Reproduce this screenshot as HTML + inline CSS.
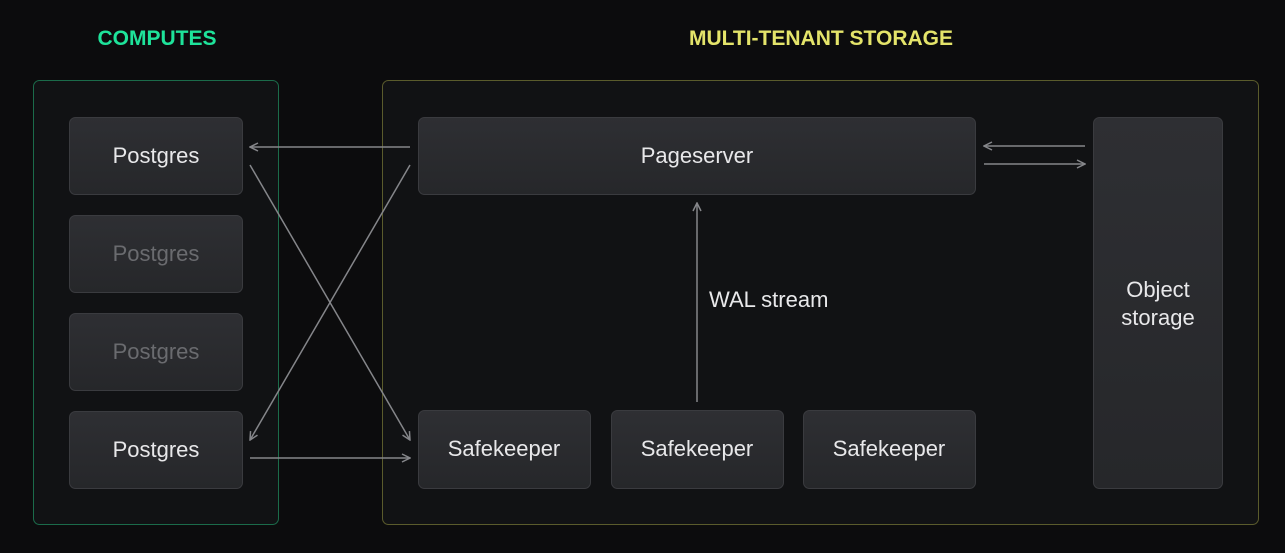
<!DOCTYPE html>
<html><head><meta charset="utf-8"><style>
html,body{margin:0;padding:0;background:#0c0c0d;}
svg{display:block;}
text{font-family:"Liberation Sans",sans-serif;}
</style></head><body>
<svg width="1285" height="553" viewBox="0 0 1285 553" xmlns="http://www.w3.org/2000/svg">
<defs>
<linearGradient id="g" x1="0" y1="0" x2="0" y2="1">
<stop offset="0" stop-color="#2e2f33"/><stop offset="1" stop-color="#26272a"/>
</linearGradient>
<marker id="a" viewBox="0 0 10 10" refX="9" refY="5" markerWidth="10" markerHeight="10" markerUnits="userSpaceOnUse" orient="auto">
<path d="M1 1 L9 5 L1 9" fill="none" stroke="#85868a" stroke-width="1.5"/>
</marker>
</defs>
<rect width="1285" height="553" fill="#0c0c0d"/>
<text x="157" y="45" text-anchor="middle" font-size="21" fill="#1ee39a" font-weight="600">COMPUTES</text>
<text x="821" y="45" text-anchor="middle" font-size="21" fill="#e4e46a" font-weight="600">MULTI-TENANT STORAGE</text>
<rect x="33.5" y="80.5" width="245" height="444" rx="6" fill="#111214" stroke="#1b6b4a"/>
<rect x="382.5" y="80.5" width="876" height="444" rx="6" fill="#111214" stroke="#5a5b2c"/>
<g stroke="#3a3b3f" fill="url(#g)">
<rect x="69.5" y="117.5" width="173" height="77" rx="6"/>
<rect x="69.5" y="215.5" width="173" height="77" rx="6"/>
<rect x="69.5" y="313.5" width="173" height="77" rx="6"/>
<rect x="69.5" y="411.5" width="173" height="77" rx="6"/>
<rect x="418.5" y="117.5" width="557" height="77" rx="6"/>
<rect x="418.5" y="410.5" width="172" height="78" rx="6"/>
<rect x="611.5" y="410.5" width="172" height="78" rx="6"/>
<rect x="803.5" y="410.5" width="172" height="78" rx="6"/>
<rect x="1093.5" y="117.5" width="129" height="371" rx="6"/>
</g>
<g font-size="22" text-anchor="middle">
<text x="156" y="163" fill="#e8e8ea">Postgres</text>
<text x="156" y="261" fill="#6a6b6f">Postgres</text>
<text x="156" y="359" fill="#6a6b6f">Postgres</text>
<text x="156" y="457" fill="#e8e8ea">Postgres</text>
<text x="697" y="163" fill="#e8e8ea">Pageserver</text>
<text x="504" y="456" fill="#e8e8ea">Safekeeper</text>
<text x="697" y="456" fill="#e8e8ea">Safekeeper</text>
<text x="889" y="456" fill="#e8e8ea">Safekeeper</text>
<text x="1158" y="297" fill="#e8e8ea">Object</text>
<text x="1158" y="325" fill="#e8e8ea">storage</text>
<text x="709" y="307" text-anchor="start" fill="#e8e8ea">WAL stream</text>
</g>
<g stroke="#85868a" stroke-width="1.5" fill="none" marker-end="url(#a)">
<line x1="410" y1="147" x2="250" y2="147"/>
<line x1="410" y1="165" x2="250" y2="440"/>
<line x1="250" y1="165" x2="410" y2="440"/>
<line x1="250" y1="458" x2="410" y2="458"/>
<line x1="697" y1="402" x2="697" y2="203"/>
<line x1="1085" y1="146" x2="984" y2="146"/>
<line x1="984" y1="164" x2="1085" y2="164"/>
</g>
</svg>
</body></html>
